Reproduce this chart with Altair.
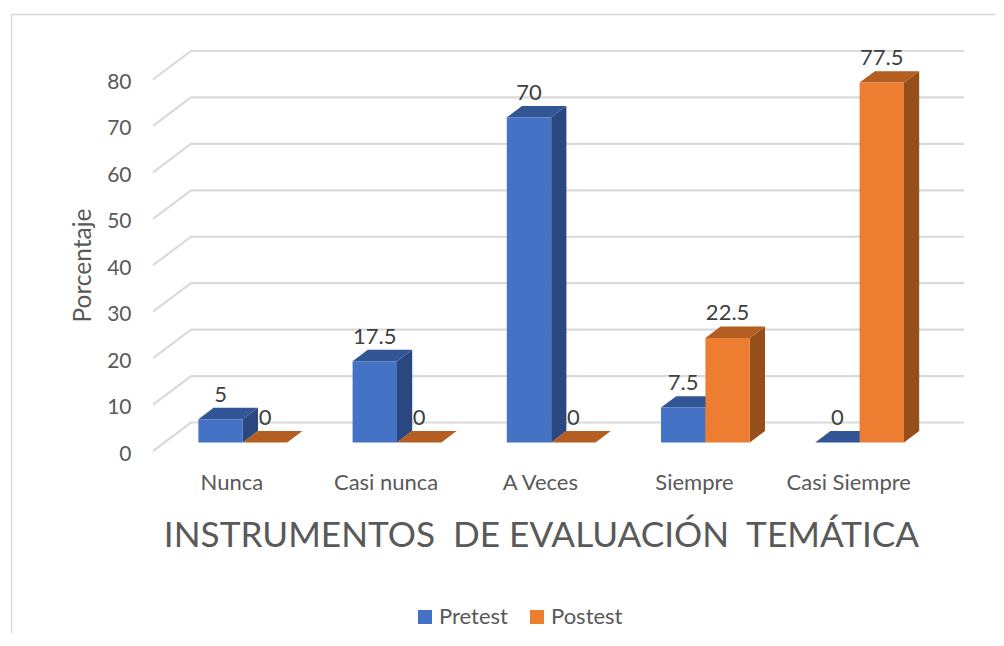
import altair as alt
import pandas as pd

categories = ["Nunca", "Casi nunca", "A Veces", "Siempre", "Casi Siempre"]
pretest = [5, 17.5, 70, 7.5, 0]
postest = [0, 0, 0, 22.5, 77.5]
ticks = [0, 10, 20, 30, 40, 50, 60, 70, 80]

FONT = "Lato"
W, H = 984, 619
PX_U, PX_V = 154.2, 4.644       # pixels per category / per percent
X0, Y0 = 231.4, 451.0           # page position of category 0, value 0, front of floor
L, T = 11.5, 14.5
DX, DY = 38 / PX_U, 28.5 / PX_V  # full oblique depth
BW = 44.4 / PX_U                 # bar width
D1, D2 = 0.3, 0.7                # bar depth span
xdom = [(L - X0) / PX_U, (L + W - X0) / PX_U]
ydom = [(Y0 - (T + H)) / PX_V, (Y0 - T) / PX_V]

xs = alt.Scale(domain=xdom, nice=False, zero=False)
ys = alt.Scale(domain=ydom, nice=False, zero=False)
x_axis = alt.Axis(
    values=list(range(len(categories))),
    labelExpr="['" + "','".join(categories) + "'][datum.value]",
    orient="bottom", offset=-(T + H - Y0), grid=False, domain=False, ticks=False,
    labelFontSize=22, labelColor="#595959", labelFont=FONT, labelPadding=21, labelAngle=0,
    titleFont=FONT, titleFontSize=35.2, titleColor="#595959", titleFontWeight="normal",
    titleAnchor="middle", titleX=541 - L, titleY=84, titleBaseline="middle")
y_axis = alt.Axis(
    values=ticks, orient="left", offset=-(153 - L), grid=False, domain=False, ticks=False,
    labelFontSize=21, labelColor="#595959", labelFont=FONT, labelPadding=22, labelOffset=3,
    titleFont=FONT, titleFontSize=24.5, titleColor="#595959", titleFontWeight="normal",
    titleX=-70, titleY=265 - T, titleAngle=270, titleBaseline="middle", titleAnchor="middle")
X_TITLE = "INSTRUMENTOS\u00a0 DE EVALUACIÓN\u00a0 TEMÁTICA"
X = alt.X("x:Q", scale=xs, axis=x_axis, title=X_TITLE)
Y = alt.Y("y:Q", scale=ys, axis=y_axis, title="Porcentaje")

# back wall and side wall grid
gl, xleft, xright = [], (153 - X0) / PX_U, (964 - X0) / PX_U
for t in ticks:
    gl += [
        dict(t=t, o=0, x=xleft, y=t),
        dict(t=t, o=1, x=xleft + DX, y=t + DY),
        dict(t=t, o=2, x=xright, y=t + DY),
    ]
grid = alt.Chart(pd.DataFrame(gl)).mark_line(color="#dadada", strokeWidth=2.2).encode(
    x=X, y=Y, detail="t:N", order="o:Q")

frame = alt.Chart(pd.DataFrame({"a": [0]}))
top_edge = frame.mark_rule(color="#d9d9d9", strokeWidth=1.5).encode(
    x=alt.value(0), x2=alt.value(W), y=alt.value(0))
left_edge = frame.mark_rule(color="#d9d9d9", strokeWidth=1.5).encode(
    y=alt.value(0), y2=alt.value(H), x=alt.value(0))

COL = {"Pretest": ("#4472c4", "#325596", "#2a477f"), "Postest": ("#ed7d31", "#b55e22", "#964f1b")}
color_enc = alt.Color("s:N", scale=alt.Scale(domain=["Pretest", "Postest"], range=["#4472c4", "#ed7d31"]),
    legend=alt.Legend(orient="none", legendX=414 - L - 5 + 0, legendY=606 - T - 5, direction="horizontal",
                      title=None, symbolType="square", symbolSize=196, symbolStrokeWidth=0,
                      labelFont=FONT, labelFontSize=22, labelColor="#595959", labelOffset=3,
                      columnPadding=18, padding=5))

layers = [top_edge, left_edge, grid]
labels = []
for name, vals, shift in (("Pretest", pretest, 0.0), ("Postest", postest, BW)):
    front, side, top = [], [], []
    for i, v in enumerate(vals):
        xl = i - BW + shift + DX * D1
        xr = xl + BW
        fy = v + DY * D1
        by = DY * D1
        d = DX * (D2 - D1)
        h = DY * (D2 - D1)
        front.append(dict(s=name, x=xl, x2=xr, y=by, y2=fy))
        side += [dict(b=i, x=xr, y=by, y2=fy), dict(b=i, x=xr + d, y=by + h, y2=fy + h)]
        top += [
            dict(b=i, x=xl, y=fy, y2=fy),
            dict(b=i, x=xl + d, y=fy, y2=fy + h),
            dict(b=i, x=xr, y=fy, y2=fy + h),
            dict(b=i, x=xr + d, y=fy + h, y2=fy + h),
        ]
        labels.append(dict(x=(xl + xr) / 2, y=fy, t=f"{v:g}"))
    c_front, c_top, c_side = COL[name]
    layers.append(alt.Chart(pd.DataFrame(side)).mark_area(color=c_side).encode(
        x=X, y=Y, y2="y2:Q", detail="b:N"))
    layers.append(alt.Chart(pd.DataFrame(top)).mark_area(color=c_top).encode(
        x=X, y=Y, y2="y2:Q", detail="b:N"))
    layers.append(alt.Chart(pd.DataFrame(front)).mark_rect().encode(
        x=X, x2="x2:Q", y=Y, y2="y2:Q", color=color_enc))

text = alt.Chart(pd.DataFrame(labels)).mark_text(
    font=FONT, fontSize=22, color="#404040", baseline="middle", align="center", dy=-24.5
).encode(x=X, y=Y, text="t:N")
layers.append(text)

chart = alt.layer(*layers).properties(
    width=W, height=H, autosize=alt.AutoSizeParams(type="none"),
    padding={"left": L - 8, "top": T - 8, "right": 0, "bottom": 0},
    background="white",
).configure_view(stroke=None)

chart.save("out.html", embed_options={"renderer": "svg", "actions": False})
